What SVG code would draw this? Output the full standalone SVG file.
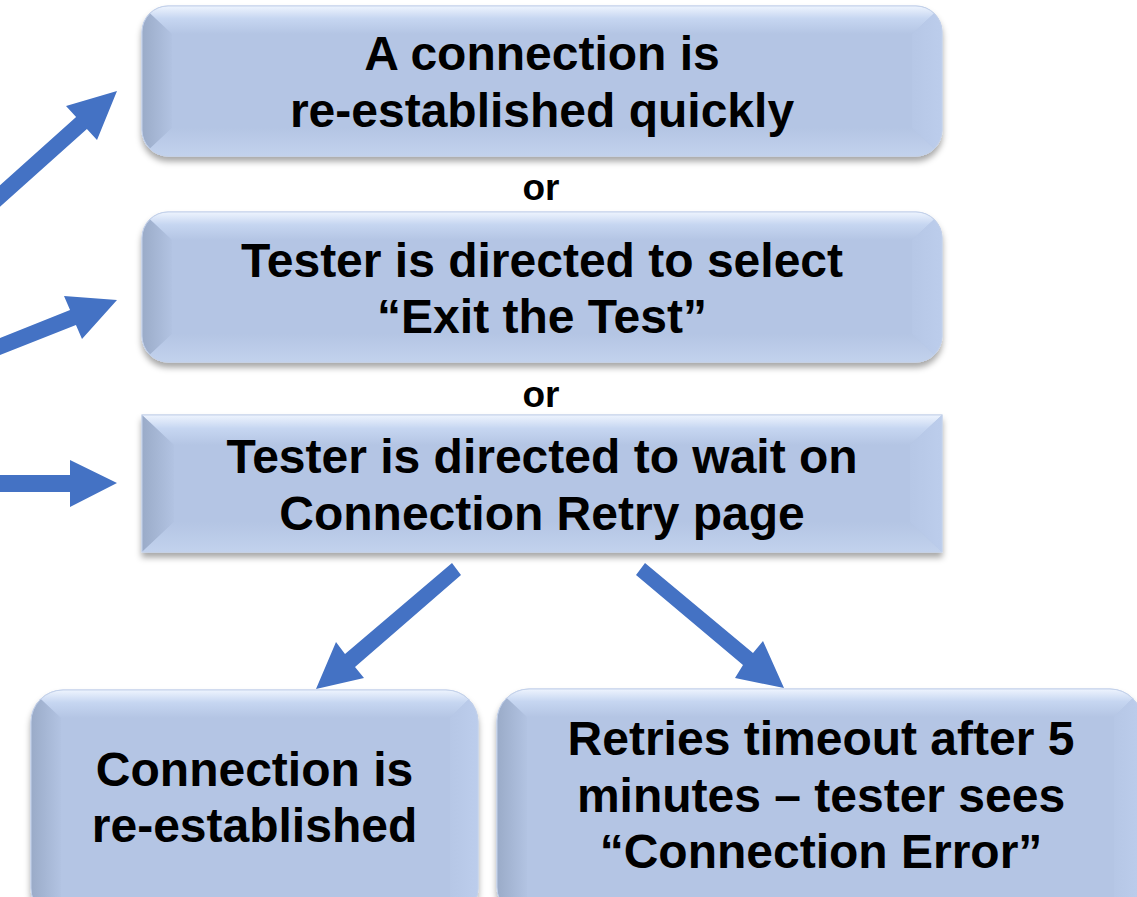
<svg xmlns="http://www.w3.org/2000/svg" width="1137" height="897" viewBox="0 0 1137 897">
  <style>
    .base { fill: #B4C5E4; stroke: #C3D1EA; stroke-width: 1; }
    .t { font-family: "Liberation Sans", Arial, sans-serif; font-weight: bold; font-size: 48px; fill: #000; text-anchor: middle; }
    .or { font-family: "Liberation Sans", Arial, sans-serif; font-weight: bold; font-size: 37px; fill: #000; text-anchor: middle; }
    .arrow { fill: #4472C4; }
    .bt { fill: url(#gTop); }
    .bl { fill: url(#gLeft); }
    .br { fill: url(#gRight); }
    .bb { fill: url(#gBottom); }
  </style>
  <defs>
    <filter id="shadow" x="-5%" y="-10%" width="110%" height="130%">
      <feDropShadow dx="0" dy="5" stdDeviation="3" flood-color="#000" flood-opacity="0.35"/>
    </filter>
    <linearGradient id="gTop" x1="0" y1="0" x2="0" y2="1">
      <stop offset="0" stop-color="#EEF4FE"/>
      <stop offset="0.45" stop-color="#C6D6F1"/>
      <stop offset="1" stop-color="#B4C5E4"/>
    </linearGradient>
    <linearGradient id="gLeft" x1="0" y1="0" x2="1" y2="0">
      <stop offset="0" stop-color="#9AABC8"/>
      <stop offset="1" stop-color="#B2C3E2"/>
    </linearGradient>
    <linearGradient id="gRight" x1="0" y1="0" x2="1" y2="0">
      <stop offset="0" stop-color="#B6C7E6"/>
      <stop offset="1" stop-color="#BCCDEC"/>
    </linearGradient>
    <linearGradient id="gBottom" x1="0" y1="0" x2="0" y2="1">
      <stop offset="0" stop-color="#B4C5E4"/>
      <stop offset="1" stop-color="#C2D2ED"/>
    </linearGradient>
    <clipPath id="c1"><rect x="142" y="6" width="800" height="150" rx="26"/></clipPath>
    <clipPath id="c2"><rect x="142" y="212" width="800" height="150" rx="26"/></clipPath>
    <clipPath id="c3"><rect x="142" y="415" width="800" height="137"/></clipPath>
    <clipPath id="c4"><rect x="31" y="690" width="447" height="230" rx="32"/></clipPath>
    <clipPath id="c5"><rect x="497" y="689" width="645" height="230" rx="32"/></clipPath>
  </defs>

  <g id="connectors">
    <polygon class="arrow" points="-15.4,199.1 76.1,117.1 66,106 117,91 97,140 86.9,128.9 -4.6,210.9"/>
    <polygon class="arrow" points="-12.95,343.1 70.05,310.1 64,296 117,300 82,339 75.95,324.9 -7.05,357.9"/>
    <polygon class="arrow" points="-5,475 70,475 70,460 117,483 70,507 70,492 -5,492"/>
    <polygon class="arrow" points="452,563 345,654 336,642 316,689 364,678 355,667 461,575"/>
    <polygon class="arrow" points="645,563 753,653 763,641 784,688 735,678 743,665 636,575"/>
  </g>

  <g id="node1">
    <rect class="base" x="142" y="6" width="800" height="150" rx="26" filter="url(#shadow)"/>
    <g clip-path="url(#c1)">
      <polygon class="bt" points="142,6 942,6 912,34 172,34"/>
      <polygon class="bl" points="142,6 172,34 172,128 142,156"/>
      <polygon class="br" points="942,6 942,156 912,128 912,34"/>
      <polygon class="bb" points="142,156 172,128 912,128 942,156"/>
    </g>
    <rect x="142" y="6" width="800" height="150" rx="26" fill="none" stroke="#C3D1EA" stroke-width="1"/>
    <text class="t" x="542" y="70">A connection is</text>
    <text class="t" x="542" y="127">re-established quickly</text>
  </g>

  <text class="or" x="541" y="200">or</text>

  <g id="node2">
    <rect class="base" x="142" y="212" width="800" height="150" rx="26" filter="url(#shadow)"/>
    <g clip-path="url(#c2)">
      <polygon class="bt" points="142,212 942,212 912,240 172,240"/>
      <polygon class="bl" points="142,212 172,240 172,334 142,362"/>
      <polygon class="br" points="942,212 942,362 912,334 912,240"/>
      <polygon class="bb" points="142,362 172,334 912,334 942,362"/>
    </g>
    <rect x="142" y="212" width="800" height="150" rx="26" fill="none" stroke="#C3D1EA" stroke-width="1"/>
    <text class="t" x="542" y="277">Tester is directed to select</text>
    <text class="t" x="542" y="333">“Exit the Test”</text>
  </g>

  <text class="or" x="541" y="407">or</text>

  <g id="node3">
    <rect class="base" x="142" y="415" width="800" height="137" filter="url(#shadow)"/>
    <g clip-path="url(#c3)">
      <polygon class="bt" points="142,415 942,415 910,445 174,445"/>
      <polygon class="bl" points="142,415 174,445 174,522 142,552"/>
      <polygon class="br" points="942,415 942,552 910,522 910,445"/>
      <polygon class="bb" points="142,552 174,522 910,522 942,552"/>
    </g>
    <rect x="142" y="415" width="800" height="137" fill="none" stroke="#C3D1EA" stroke-width="1"/>
    <text class="t" x="542" y="473">Tester is directed to wait on</text>
    <text class="t" x="542" y="530">Connection Retry page</text>
  </g>

  <g id="node4">
    <rect class="base" x="31" y="690" width="447" height="230" rx="32" filter="url(#shadow)"/>
    <g clip-path="url(#c4)">
      <polygon class="bt" points="31,690 478,690 450,718 61,718"/>
      <polygon class="bl" points="31,690 61,718 61,900 31,930"/>
      <polygon class="br" points="478,690 478,930 450,900 450,718"/>
    </g>
    <rect x="31" y="690" width="447" height="230" rx="32" fill="none" stroke="#C3D1EA" stroke-width="1"/>
    <text class="t" x="254.5" y="786">Connection is</text>
    <text class="t" x="254.5" y="842">re-established</text>
  </g>

  <g id="node5">
    <rect class="base" x="497" y="689" width="645" height="230" rx="32" filter="url(#shadow)"/>
    <g clip-path="url(#c5)">
      <polygon class="bt" points="497,689 1142,689 1114,717 527,717"/>
      <polygon class="bl" points="497,689 527,717 527,900 497,930"/>
      <polygon class="br" points="1142,689 1142,930 1114,900 1114,717"/>
    </g>
    <rect x="497" y="689" width="645" height="230" rx="32" fill="none" stroke="#C3D1EA" stroke-width="1"/>
    <text class="t" x="821" y="755">Retries timeout after 5</text>
    <text class="t" x="821" y="812">minutes – tester sees</text>
    <text class="t" x="821" y="868">“Connection Error”</text>
  </g>
</svg>
